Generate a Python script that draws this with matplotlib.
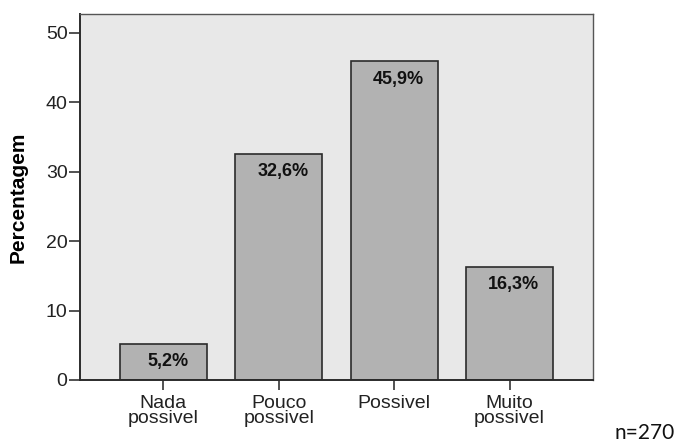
import matplotlib
matplotlib.use("Agg")
from matplotlib import pyplot as plt

categories = ["Nada\npossivel", "Pouco\npossivel", "Possivel", "Muito\npossivel"]
percent = [5.2, 32.6, 45.9, 16.3]
value_labels = ["5,2%", "32,6%", "45,9%", "16,3%"]
y_ticks = [0, 10, 20, 30, 40, 50]
n_note = "n=270"

plt.rcParams["font.family"] = ["Liberation Sans", "DejaVu Sans"]

fig = plt.figure(figsize=(6.83, 4.43), dpi=100)
ax = fig.add_axes([80 / 683, 63 / 443, 513 / 683, 366 / 443])
ax.set_facecolor("#e8e8e8")

x = list(range(len(categories)))
bars = ax.bar(x, percent, width=0.755, color="#b2b2b2", edgecolor="#2b2b2b", linewidth=1.2, zorder=2)
for b, lab in zip(bars, value_labels):
    ax.annotate(lab, xy=(b.get_x() + b.get_width() / 2, b.get_height()), xytext=(3, -13),
                textcoords="offset points", ha="center", va="center",
                fontsize=13, fontweight="bold", color="#111111")

ax.set_xlim(-0.723, 3.723)
ax.set_ylim(0, 52.7)
ax.set_xticks(x)
ax.set_xticklabels(categories, fontsize=14, linespacing=0.8, color="#222222")
ax.set_yticks(y_ticks)
ax.set_yticklabels([str(t) for t in y_ticks], fontsize=14, color="#222222")
ax.tick_params(axis="y", direction="out", length=8, width=1.2, color="#333333", pad=1)
ax.tick_params(axis="x", direction="out", length=7, width=1.2, color="#333333", pad=4)
ax.set_ylabel("Percentagem", fontsize=15, fontweight="bold")
ax.yaxis.set_label_coords(-0.103, 0.5)

for side in ["left", "bottom"]:
    ax.spines[side].set_color("#2b2b2b")
    ax.spines[side].set_linewidth(1.4)
for side in ["top", "right"]:
    ax.spines[side].set_color("#555555")
    ax.spines[side].set_linewidth(1.0)

fig.text(645 / 683, 1 - 439 / 443, n_note, fontsize=15, family=["Lato", "DejaVu Sans"],
         ha="center", va="baseline", color="#111111")

fig.savefig("out.png", dpi=100)
plt.close(fig)
